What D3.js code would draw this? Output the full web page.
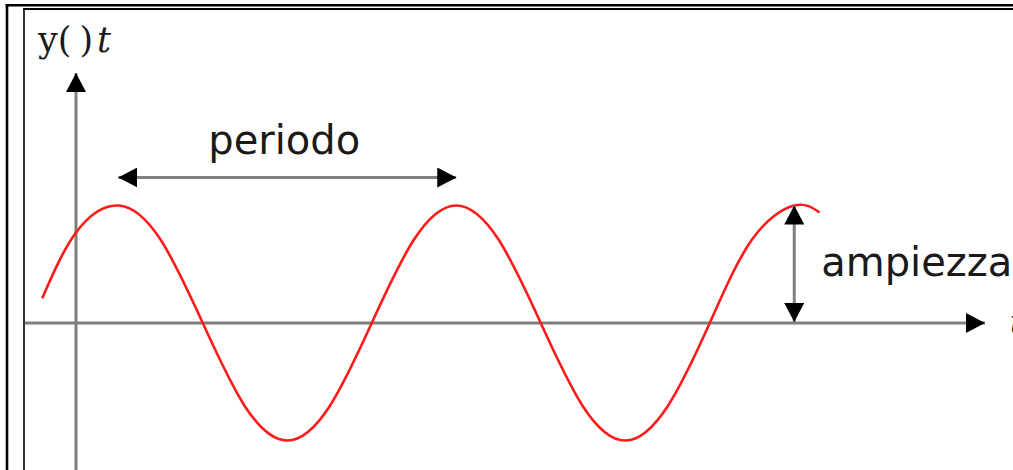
<!DOCTYPE html>
<html>
<head>
<meta charset="utf-8">
<script src="https://cdn.jsdelivr.net/npm/d3@7"></script>
<style>
  body { margin: 0; background: #fff; }
  svg { display: block; }
</style>
</head>
<body>
<script>
var w = 1013;
var h = 470;

// wave: t in quarter periods, y in amplitudes
var waveT = [-0.4, 0, 0.5, 1, 1.5, 2, 2.5, 3, 3.5, 4, 4.5, 5, 5.5, 6, 6.5, 7, 7.5, 8, 8.5, 8.8];
var waveY = [0.21, 0.77, 1, 0.71, 0, -0.71, -1, -0.71, 0, 0.71, 1, 0.71, 0, -0.71, -1, -0.71, 0, 0.71, 1, 0.94];
var periodT = [0.5, 4.5];     // two peaks spanned by "periodo"
var amplitudeT = 8.5;         // peak used for "ampiezza"
var labels = ["periodo", "ampiezza"];

var axisGray = "#7f7f7f";

// scales (origin of the axes sits at x=76, y=323)
var xScale = d3.scaleLinear()
    .domain([0, 10])
    .range([76, 76 + 845]);
var yScale = d3.scaleLinear()
    .domain([-1, 1])
    .range([440.5, 205.5]);

var svg = d3.select("body")
    .append("svg")
    .attr("width", w)
    .attr("height", h);

//arrow head marker
var defs = svg.append("defs");
function marker(id, color) {
    defs.append("marker")
        .attr("id", id)
        .attr("markerUnits", "userSpaceOnUse")
        .attr("viewBox", "0 0 19 20")
        .attr("refX", 19)
        .attr("refY", 10)
        .attr("markerWidth", 19)
        .attr("markerHeight", 20)
        .attr("orient", "auto-start-reverse")
        .append("path")
        .attr("d", "M0,0 L19,10 L0,20 Z")
        .attr("fill", color);
}
marker("head", "#000");

//frame
svg.append("line").attr("x1", 7).attr("x2", 7).attr("y1", 4).attr("y2", h)
    .attr("stroke", "#000").attr("stroke-width", 2.6);
svg.append("line").attr("x1", 5.7).attr("x2", w).attr("y1", 5.2).attr("y2", 5.2)
    .attr("stroke", "#000").attr("stroke-width", 2.6);
svg.append("line").attr("x1", 24).attr("x2", 24).attr("y1", 8.2).attr("y2", h)
    .attr("stroke", "#000").attr("stroke-width", 1.6);
svg.append("line").attr("x1", 23.2).attr("x2", w).attr("y1", 9).attr("y2", 9)
    .attr("stroke", "#000").attr("stroke-width", 1.8);

//axes
svg.append("line")
    .attr("class", "x axis")
    .attr("x1", 25).attr("x2", 985)
    .attr("y1", yScale(0)).attr("y2", yScale(0))
    .attr("stroke", axisGray).attr("stroke-width", 3)
    .attr("marker-end", "url(#head)");
svg.append("line")
    .attr("class", "y axis")
    .attr("x1", xScale(0)).attr("x2", xScale(0))
    .attr("y1", h).attr("y2", 73)
    .attr("stroke", axisGray).attr("stroke-width", 3)
    .attr("marker-end", "url(#head)");

//wave
var wave = d3.zip(waveT, waveY);
var line = d3.line()
    .x(function(d) { return xScale(d[0]); })
    .y(function(d) { return yScale(d[1]); })
    .curve(d3.curveNatural);
svg.append("path")
    .datum(wave)
    .attr("d", line)
    .attr("fill", "none")
    .attr("stroke", "#ff1a1a")
    .attr("stroke-width", 2.6);

//periodo arrow
var py = 177.5;
svg.append("line")
    .attr("x1", xScale(periodT[0])).attr("x2", xScale(periodT[1]))
    .attr("y1", py).attr("y2", py)
    .attr("stroke", axisGray).attr("stroke-width", 3)
    .attr("marker-start", "url(#head)")
    .attr("marker-end", "url(#head)");
svg.append("text")
    .attr("x", (xScale(periodT[0]) + xScale(periodT[1])) / 2 - 3)
    .attr("y", 154)
    .attr("text-anchor", "middle")
    .attr("font-family", "DejaVu Sans")
    .attr("font-size", "40px")
    .attr("fill", "#1a1a1a")
    .text(labels[0]);

//ampiezza arrow
var ax = xScale(amplitudeT);
svg.append("line")
    .attr("x1", ax).attr("x2", ax)
    .attr("y1", yScale(0) - 1).attr("y2", yScale(1))
    .attr("stroke", axisGray).attr("stroke-width", 3)
    .attr("marker-start", "url(#head)")
    .attr("marker-end", "url(#head)");
svg.append("text")
    .attr("x", ax + 27)
    .attr("y", 276)
    .attr("font-family", "DejaVu Sans")
    .attr("font-size", "40px")
    .attr("fill", "#1a1a1a")
    .text(labels[1]);

//axis labels
var yl = svg.append("text")
    .attr("x", 38)
    .attr("y", 52)
    .attr("font-family", "DejaVu Serif")
    .attr("font-size", "35px")
    .attr("fill", "#1a1a1a");
yl.append("tspan").text("y(");
yl.append("tspan").attr("dx", 8).text(")");
yl.append("tspan").attr("dx", 4).attr("font-style", "italic").text("t");

svg.append("text")
    .attr("x", 1010)
    .attr("y", yScale(0) + 10)
    .attr("font-family", "DejaVu Serif")
    .attr("font-style", "italic")
    .attr("font-size", "31px")
    .attr("fill", "#1a1a1a")
    .text("t");
</script>
</body>
</html>
